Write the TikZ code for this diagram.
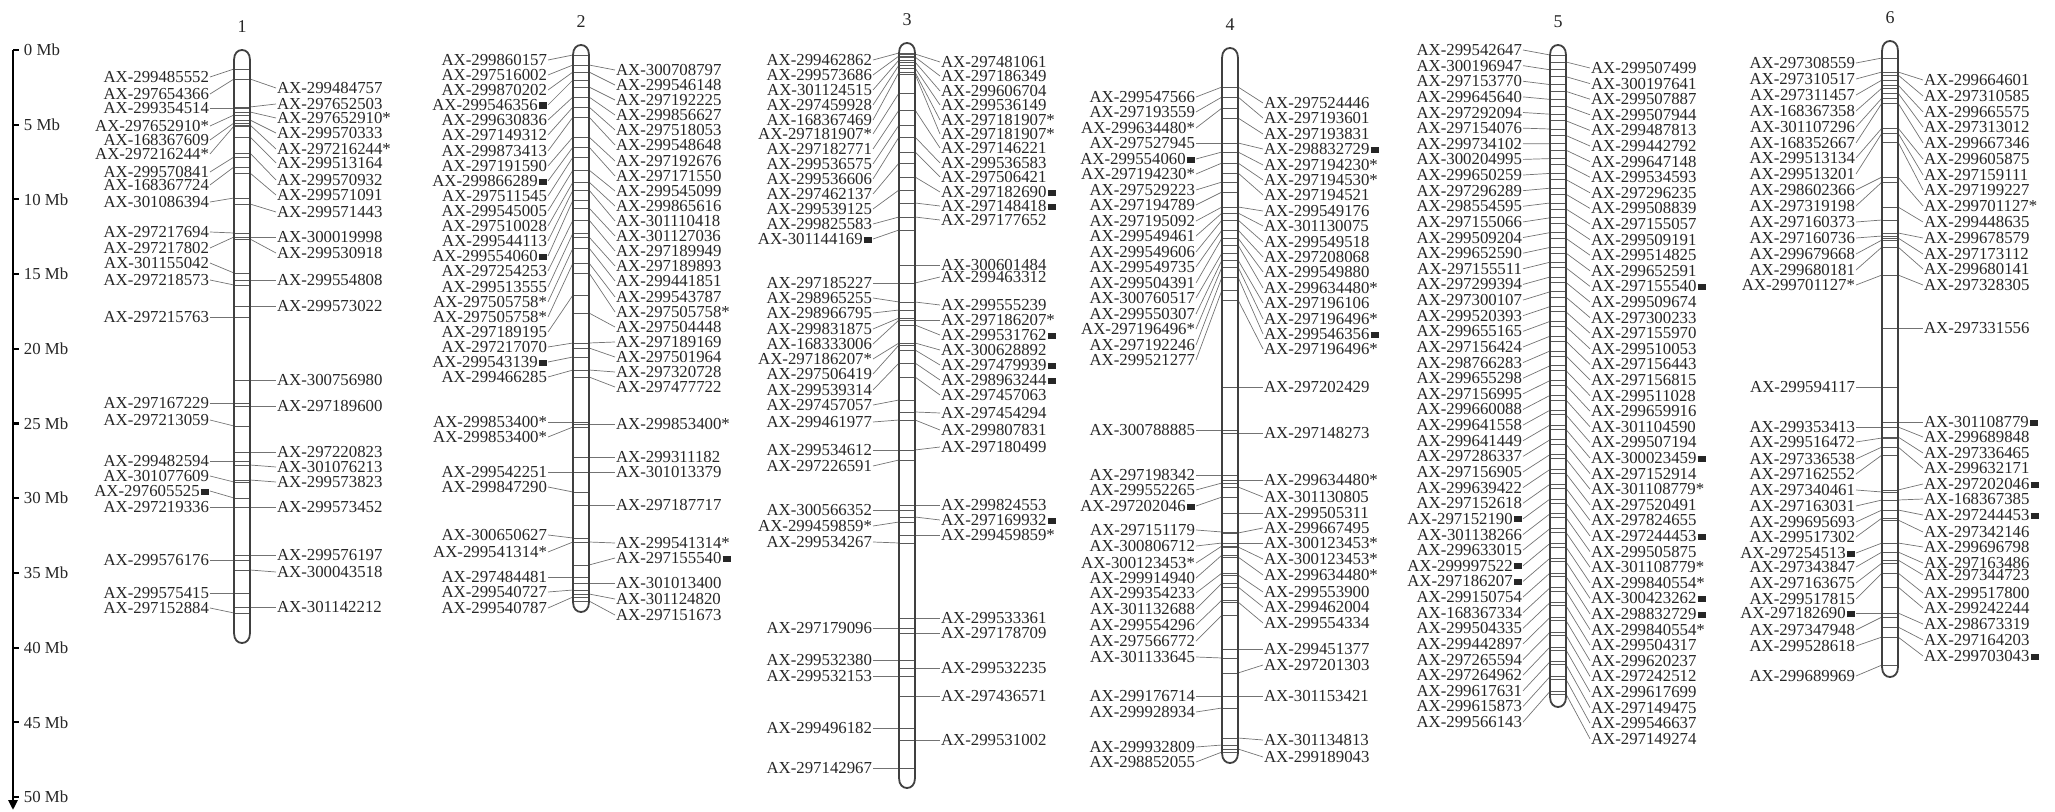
\documentclass[tikz,border=0pt]{standalone}
\usepackage{fontspec}
\setmainfont{Liberation Serif}
\usetikzlibrary{arrows.meta}
\newcommand\sq{\kern0.6pt\rule[0.25ex]{0.48em}{0.36em}}
\tikzset{
  mk/.style={font=\fontsize{8.4}{9}\selectfont, text=black!85, inner sep=0.3pt},
  num/.style={font=\fontsize{9}{10}\selectfont, text=black!85},
  link/.style={draw=black!55, line width=0.35pt},
  band/.style={draw=black!65, line width=0.45pt},
  chrom/.style={draw=black!75, line width=0.9pt},
  axis/.style={draw=black, line width=1.4pt}
}
% marker columns: label x, chromosome centre x, name prefix, list ly/ty/text
\newcommand\leftmarks[4]{%
  \foreach \ly/\ty/\lab [count=\i] in {#4} {
    \node[mk, anchor=east] (#3\i) at (#1,\ly) {\lab};
    \coordinate (#3t\i) at (#2-8,\ty);
    \draw[link] (#3\i.east) -- (#3t\i);
    \draw[band] (#3t\i) -- ++(16,0);
  }}
\newcommand\rightmarks[4]{%
  \foreach \ly/\ty/\lab [count=\i] in {#4} {
    \node[mk, anchor=west] (#3\i) at (#1,\ly) {\lab};
    \coordinate (#3t\i) at (#2+8,\ty);
    \draw[link] (#3t\i) -- (#3\i.west);
    \draw[band] (#3t\i) -- ++(-16,0);
  }}
% chromosome body: number, centre x, top y, bottom y
\newcommand\chromo[4]{%
  \draw[chrom] (#2-8,#3+10) .. controls (#2-8,#3+3) and (#2-4,#3) .. (#2,#3)
    .. controls (#2+4,#3) and (#2+8,#3+3) .. (#2+8,#3+10)
    -- (#2+8,#4-10) .. controls (#2+8,#4-3) and (#2+4,#4) .. (#2,#4)
    .. controls (#2-4,#4) and (#2-8,#4-3) .. (#2-8,#4-10) -- cycle;
  \node[num] (chr#1) at (#2,#3-23) {#1};
}
\begin{document}
\begin{tikzpicture}[x=0.5pt,y=-0.5pt]
  \useasboundingbox (0,0) rectangle (2055,812);

  % scale bar
  \draw[axis, -{Triangle[length=5pt,width=4.5pt]}] (13,50) -- (13,810);
  \foreach \m in {0,5,...,50} {
    \coordinate (s\m) at (13,{50+14.94*\m});
    \node[mk, anchor=west] (mb\m) at (23,{50+14.94*\m}) {\m\ Mb};
    \draw[axis, line width=1pt] (s\m) -- ++(6,0);
  }

  % chromosome 1
  \leftmarks{210}{242}{c1l}{77/69/AX-299485552, 94/79/AX-297654366, 108/108/AX-299354514,
    126/115/AX-297652910*, 140/123/AX-168367609, 154/126/AX-297216244*, 172/157/AX-299570841,
    185/167/AX-168367724, 202/198/AX-301086394, 232/233/AX-297217694, 248/237/AX-297217802,
    263/273/AX-301155042, 280/285/AX-297218573, 317/317/AX-297215763, 403/403/AX-297167229,
    420/426/AX-297213059, 461/461/AX-299482594, 476/482/AX-301077609, 491/498/AX-297605525\sq,
    507/507/AX-297219336, 560/560/AX-299576176, 593/593/AX-299575415, 608/613/AX-297152884}
  \rightmarks{276}{242}{c1r}{88/79/AX-299484757, 104/107/AX-297652503, 118/112/AX-297652910*,
    133/120/AX-299570333, 149/125/AX-297216244*, 163/137/AX-299513164, 180/153/AX-299570932,
    195/173/AX-299571091, 212/204/AX-299571443, 237/237/AX-300019998, 253/239/AX-299530918,
    280/280/AX-299554808, 306/306/AX-299573022, 380/380/AX-300756980, 406/406/AX-297189600,
    452/452/AX-297220823, 467/465/AX-301076213, 482/480/AX-299573823, 507/507/AX-299573452,
    555/555/AX-299576197, 572/570/AX-300043518, 607/607/AX-301142212}
  \chromo{1}{242}{50}{643}

  % chromosome 2
  \leftmarks{548}{581}{c2l}{60/55/AX-299860157, 75/65/AX-297516002, 90/72/AX-299870202,
    105/80/AX-299546356\sq, 120/97/AX-299630836, 135/107/AX-297149312, 151/117/AX-299873413,
    166/137/AX-297191590, 181/147/AX-299866289\sq, 196/157/AX-297511545, 211/170/AX-299545005,
    226/182/AX-297510028, 241/190/AX-299544113, 256/200/AX-299554060\sq, 271/220/AX-297254253,
    287/233/AX-299513555, 302/248/AX-297505758*, 317/263/AX-297505758*, 332/295/AX-297189195,
    347/343/AX-297217070, 362/357/AX-299543139\sq, 377/370/AX-299466285, 422/422/AX-299853400*,
    437/427/AX-299853400*, 472/472/AX-299542251, 487/492/AX-299847290, 535/538/AX-300650627,
    552/542/AX-299541314*, 577/577/AX-297484481, 592/590/AX-299540727, 608/597/AX-299540787}
  \rightmarks{615}{581}{c2r}{70/65/AX-300708797, 85/72/AX-299546148, 100/87/AX-297192225,
    115/97/AX-299856627, 130/107/AX-297518053, 145/117/AX-299548648, 161/137/AX-297192676,
    176/147/AX-297171550, 191/170/AX-299545099, 206/182/AX-299865616, 221/190/AX-301110418,
    236/208/AX-301127036, 251/220/AX-297189949, 266/237/AX-297189893, 281/248/AX-299441851,
    297/263/AX-299543787, 312/273/AX-297505758*, 327/313/AX-297504448, 342/343/AX-297189169,
    357/348/AX-297501964, 372/370/AX-297320728, 387/377/AX-297477722, 424/424/AX-299853400*,
    457/457/AX-299311182, 472/472/AX-301013379, 505/505/AX-297187717, 543/542/AX-299541314*,
    558/565/AX-297155540\sq, 583/583/AX-301013400, 599/594/AX-301124820, 615/601/AX-297151673}
  \chromo{2}{581}{45}{612}

  % chromosome 3
  \leftmarks{873}{907}{c3l}{60/53/AX-299462862, 75/56/AX-299573686, 90/60/AX-301124515,
    105/65/AX-297459928, 120/72/AX-168367469, 134/93/AX-297181907*, 149/110/AX-297182771,
    164/125/AX-299536575, 179/137/AX-299536606, 194/163/AX-297462137, 209/190/AX-299539125,
    224/217/AX-299825583, 239/230/AX-301144169\sq, 283/283/AX-297185227, 298/302/AX-298965255,
    313/310/AX-298966795, 329/318/AX-299831875, 344/320/AX-168333006, 359/343/AX-297186207*,
    374/345/AX-297506419, 390/363/AX-299539314, 405/400/AX-297457057, 422/420/AX-299461977,
    450/450/AX-299534612, 466/460/AX-297226591, 510/510/AX-300566352, 526/522/AX-299459859*,
    542/543/AX-299534267, 628/628/AX-297179096, 660/660/AX-299532380, 676/676/AX-299532153,
    728/728/AX-299496182, 768/768/AX-297142967}
  \rightmarks{940}{907}{c3r}{62/54/AX-297481061, 76/57/AX-297186349, 91/62/AX-299606704,
    105/68/AX-299536149, 120/72/AX-297181907*, 134/74/AX-297181907*, 148/110/AX-297146221,
    163/137/AX-299536583, 177/152/AX-297506421, 192/177/AX-297182690\sq, 206/203/AX-297148418\sq,
    220/217/AX-297177652, 265/265/AX-300601484, 277/283/AX-299463312, 305/302/AX-299555239,
    320/320/AX-297186207*, 335/325/AX-299531762\sq, 350/343/AX-300628892, 365/350/AX-297479939\sq,
    380/363/AX-298963244\sq, 395/377/AX-297457063, 413/412/AX-297454294, 430/420/AX-299807831,
    447/450/AX-297180499, 505/505/AX-299824553, 520/517/AX-297169932\sq, 535/535/AX-299459859*,
    618/618/AX-299533361, 633/633/AX-297178709, 668/668/AX-299532235, 696/696/AX-297436571,
    740/740/AX-299531002}
  \chromo{3}{907}{43}{788}

  % chromosome 4
  \leftmarks{1196}{1230}{c4l}{97/87/AX-299547566, 112/97/AX-297193559, 128/108/AX-299634480*,
    143/143/AX-297527945, 159/152/AX-299554060\sq, 174/163/AX-297194230*, 190/182/AX-297529223,
    205/192/AX-297194789, 221/207/AX-297195092, 236/213/AX-299549461, 252/220/AX-299549606,
    267/230/AX-299549735, 283/238/AX-299504391, 298/253/AX-300760517, 314/260/AX-299550307,
    329/267/AX-297196496*, 345/277/AX-297192246, 360/290/AX-299521277, 430/430/AX-300788885,
    475/475/AX-297198342, 490/483/AX-299552265, 506/497/AX-297202046\sq, 530/532/AX-297151179,
    546/543/AX-300806712, 563/546/AX-300123453*, 578/555/AX-299914940, 593/573/AX-299354233,
    609/583/AX-301132688, 625/600/AX-299554296, 641/615/AX-297566772, 657/658/AX-301133645,
    696/696/AX-299176714, 712/708/AX-299928934, 747/745/AX-299932809, 762/752/AX-298852055}
  \rightmarks{1263}{1230}{c4r}{103/87/AX-297524446, 118/97/AX-297193601, 134/118/AX-297193831,
    149/143/AX-298832729\sq, 165/152/AX-297194230*, 180/163/AX-297194530*, 195/173/AX-297194521,
    211/207/AX-299549176, 226/213/AX-301130075, 242/220/AX-299549518, 257/230/AX-297208068,
    272/238/AX-299549880, 288/245/AX-299634480*, 303/260/AX-297196106, 319/267/AX-297196496*,
    334/277/AX-299546356\sq, 349/300/AX-297196496*, 387/387/AX-297202429, 433/433/AX-297148273,
    480/480/AX-299634480*, 497/487/AX-301130805, 513/513/AX-299505311, 528/533/AX-299667495,
    543/543/AX-300123453*, 559/547/AX-300123453*, 575/557/AX-299634480*, 592/575/AX-299553900,
    607/587/AX-299462004, 623/602/AX-299554334, 649/649/AX-299451377, 665/673/AX-297201303,
    696/696/AX-301153421, 740/738/AX-301134813, 757/749/AX-299189043}
  \chromo{4}{1230}{48}{763}

  % chromosome 5 (evenly packed)
  \foreach \lab [count=\i] in {AX-299542647, AX-300196947, AX-297153770, AX-299645640,
    AX-297292094, AX-297154076, AX-299734102, AX-300204995, AX-299650259, AX-297296289,
    AX-298554595, AX-297155066, AX-299509204, AX-299652590, AX-297155511, AX-297299394,
    AX-297300107, AX-299520393, AX-299655165, AX-297156424, AX-298766283, AX-299655298,
    AX-297156995, AX-299660088, AX-299641558, AX-299641449, AX-297286337, AX-297156905,
    AX-299639422, AX-297152618, AX-297152190\sq, AX-301138266, AX-299633015, AX-299997522\sq,
    AX-297186207\sq, AX-299150754, AX-168367334, AX-299504335, AX-299442897, AX-297265594,
    AX-297264962, AX-299617631, AX-299615873, AX-299566143} {
    \pgfmathsetmacro\ly{50+15.63*(\i-1)}
    \pgfmathsetmacro\ty{55+14.8*(\i-1)}
    \node[mk, anchor=east] (c5l\i) at (1523,\ly) {\lab};
    \coordinate (c5lt\i) at (1550,\ty);
    \draw[link] (c5l\i.east) -- (c5lt\i);
    \draw[band] (c5lt\i) -- ++(16,0);
  }
  \foreach \lab [count=\i] in {AX-299507499, AX-300197641, AX-299507887, AX-299507944,
    AX-299487813, AX-299442792, AX-299647148, AX-299534593, AX-297296235, AX-299508839,
    AX-297155057, AX-299509191, AX-299514825, AX-299652591, AX-297155540\sq, AX-299509674,
    AX-297300233, AX-297155970, AX-299510053, AX-297156443, AX-297156815, AX-299511028,
    AX-299659916, AX-301104590, AX-299507194, AX-300023459\sq, AX-297152914, AX-301108779*,
    AX-297520491, AX-297824655, AX-297244453\sq, AX-299505875, AX-301108779*, AX-299840554*,
    AX-300423262\sq, AX-298832729\sq, AX-299840554*, AX-299504317, AX-299620237, AX-297242512,
    AX-299617699, AX-297149475, AX-299546637, AX-297149274} {
    \pgfmathsetmacro\ly{68+15.6*(\i-1)}
    \pgfmathsetmacro\ty{62+14.7*(\i-1)}
    \node[mk, anchor=west] (c5r\i) at (1590,\ly) {\lab};
    \coordinate (c5rt\i) at (1566,\ty);
    \draw[link] (c5rt\i) -- (c5r\i.west);
    \draw[band] (c5rt\i) -- ++(-16,0);
  }
  \chromo{5}{1558}{45}{707}

  % chromosome 6
  \leftmarks{1856}{1890}{c6l}{63/58/AX-297308559, 79/72/AX-297310517, 95/80/AX-297311457,
    111/88/AX-168367358, 127/98/AX-301107296, 143/103/AX-168352667, 158/128/AX-299513134,
    174/133/AX-299513201, 190/177/AX-298602366, 206/182/AX-297319198, 222/220/AX-297160373,
    238/236/AX-297160736, 254/240/AX-299679668, 270/247/AX-299680181, 285/275/AX-299701127*,
    387/387/AX-299594117, 427/427/AX-299353413, 442/438/AX-299516472, 459/447/AX-297336538,
    474/455/AX-297162552, 490/492/AX-297340461, 506/500/AX-297163031, 522/510/AX-299695693,
    537/518/AX-299517302, 553/543/AX-297254513\sq, 567/552/AX-297343847, 583/563/AX-297163675,
    599/573/AX-299517815, 613/613/AX-297182690\sq, 630/617/AX-297347948, 646/637/AX-299528618,
    676/665/AX-299689969}
  \rightmarks{1923}{1890}{c6r}{80/72/AX-299664601, 96/75/AX-297310585, 112/85/AX-299665575,
    127/93/AX-297313012, 143/103/AX-299667346, 159/128/AX-299605875, 175/133/AX-297159111,
    190/142/AX-297199227, 206/177/AX-299701127*, 222/207/AX-299448635, 238/233/AX-299678579,
    254/238/AX-297173112, 269/247/AX-299680141, 285/275/AX-297328305, 328/328/AX-297331556,
    422/422/AX-301108779\sq, 437/427/AX-299689848, 453/437/AX-297336465, 468/447/AX-299632171,
    484/490/AX-297202046\sq, 499/500/AX-168367385, 515/510/AX-297244453\sq, 532/520/AX-297342146,
    547/543/AX-299696798, 563/552/AX-297163486, 575/560/AX-297344723, 593/573/AX-299517800,
    608/587/AX-299242244, 624/613/AX-298673319, 640/627/AX-297164203, 656/637/AX-299703043\sq}
  \chromo{6}{1890}{41}{677}
\end{tikzpicture}
\end{document}
